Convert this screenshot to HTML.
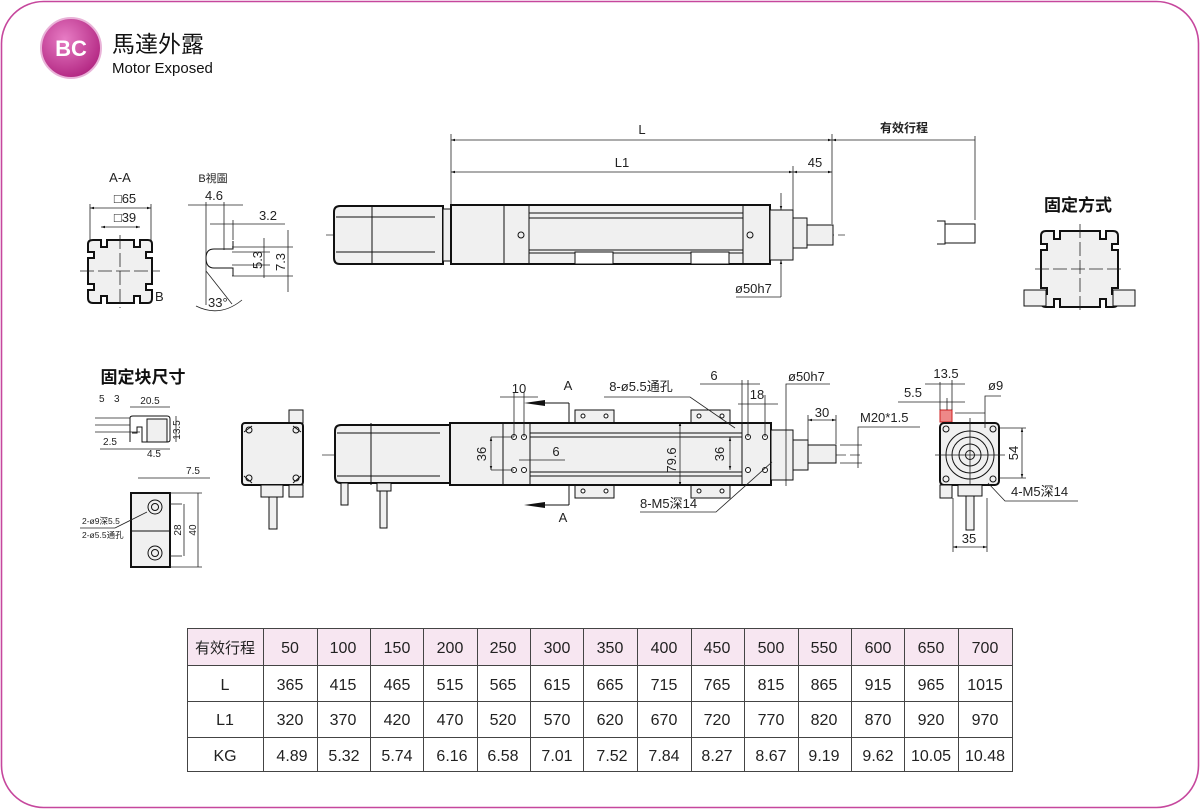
<!DOCTYPE html>
<html><head><meta charset="utf-8"><style>
html,body{margin:0;padding:0;background:#fff}
svg{display:block}
text{font-family:"Liberation Sans","Noto Sans CJK SC",sans-serif;fill:#222}
.t{font-size:13px}
.s{font-size:10px}
.k{stroke:#111;fill:none;stroke-width:1}
.b{stroke:#111;fill:#f0f0f0;stroke-width:2}
.f{stroke:#111;fill:#f0f0f0;stroke-width:1}
.c{stroke:#333;stroke-width:0.8;stroke-dasharray:12 4;fill:none}
.d{stroke:#222;stroke-width:0.8;fill:none}
</style></head><body>
<svg width="1200" height="809" viewBox="0 0 1200 809" xmlns="http://www.w3.org/2000/svg">
<defs>
<radialGradient id="g" cx="40%" cy="35%" r="70%"><stop offset="0" stop-color="#e77cc4"/><stop offset="1" stop-color="#b0237f"/></radialGradient>
<marker id="a" viewBox="0 0 10 10" refX="10" refY="5" markerWidth="7" markerHeight="5" orient="auto-start-reverse"><path d="M0,2 L10,5 L0,8z" fill="#111"/></marker>
</defs>
<rect x="1.5" y="1.5" width="1197" height="806" rx="42" fill="#fff" stroke="#c6479d" stroke-width="1.6"/>
<circle cx="71" cy="48" r="30" fill="url(#g)" stroke="#e9b3d8" stroke-width="2"/>
<text x="71" y="56" text-anchor="middle" style="font-size:22px;font-weight:bold;fill:#fff">BC</text>
<text x="112" y="52" style="font-size:23px;fill:#111">馬達外露</text>
<text x="112" y="73" style="font-size:15px;fill:#111">Motor Exposed</text>

<!-- TOP MAIN VIEW -->
<line class="c" x1="326" y1="235" x2="845" y2="235"/>
<path class="b" d="M340,206 H443 V264 H340 Q334,264 334,258 V212 Q334,206 340,206z"/>
<line class="k" x1="372" y1="206" x2="372" y2="264"/>
<line class="k" x1="336" y1="217" x2="435" y2="217"/>
<line class="k" x1="336" y1="252" x2="435" y2="252"/>
<rect class="f" x="443" y="209" width="8" height="52"/>
<rect class="b" x="451" y="205" width="319" height="59"/>
<line class="k" x1="504" y1="205" x2="504" y2="264"/>
<line class="k" x1="529" y1="205" x2="529" y2="264"/>
<line class="k" x1="743" y1="205" x2="743" y2="264"/>
<line class="k" x1="529" y1="213" x2="743" y2="213"/>
<line class="k" x1="529" y1="218" x2="743" y2="218"/>
<line class="k" x1="529" y1="250" x2="743" y2="250"/>
<line class="k" x1="529" y1="253" x2="743" y2="253"/>
<rect x="575" y="252" width="38" height="12" fill="#fff" stroke="#111"/>
<rect x="691" y="252" width="38" height="12" fill="#fff" stroke="#111"/>
<circle cx="521" cy="235" r="3" class="k"/><circle cx="750" cy="235" r="3" class="k"/>
<rect class="f" x="770" y="210" width="23" height="50" stroke-width="1.4"/>
<rect class="f" x="793" y="218" width="14" height="30"/>
<rect class="f" x="807" y="225" width="26" height="20" stroke-width="1.4"/>
<line class="d" x1="451" y1="134" x2="451" y2="204"/>
<line class="d" x1="793" y1="166" x2="793" y2="210"/>
<line class="d" x1="832" y1="134" x2="832" y2="224"/>
<line class="d" x1="975" y1="136" x2="975" y2="220"/>
<line class="d" x1="451" y1="140" x2="832" y2="140" marker-start="url(#a)" marker-end="url(#a)"/>
<line class="d" x1="832" y1="140" x2="975" y2="140" marker-start="url(#a)"/>
<line class="d" x1="451" y1="172" x2="793" y2="172" marker-start="url(#a)" marker-end="url(#a)"/>
<line class="d" x1="793" y1="172" x2="832" y2="172" marker-start="url(#a)" marker-end="url(#a)"/>
<text class="t" x="642" y="134" text-anchor="middle">L</text>
<text class="t" x="622" y="167" text-anchor="middle">L1</text>
<text class="t" x="815" y="167" text-anchor="middle">45</text>
<text x="904" y="132" text-anchor="middle" style="font-size:12px;font-weight:bold">有效行程</text>
<line class="d" x1="781" y1="193" x2="781" y2="210" marker-end="url(#a)"/>
<line class="d" x1="781" y1="297" x2="781" y2="260" marker-end="url(#a)"/>
<line class="d" x1="736" y1="297" x2="781" y2="297"/>
<text class="t" x="735" y="293">ø50h7</text>
<path class="k" stroke-width="1.5" d="M937,221 H945 V244 H937 M945,224 H975 V243 H945"/>

<!-- A-A -->
<text class="t" x="120" y="182" text-anchor="middle">A-A</text>
<text class="t" x="125" y="203" text-anchor="middle">□65</text>
<line class="d" x1="90" y1="208" x2="151" y2="208" marker-start="url(#a)" marker-end="url(#a)"/>
<line class="d" x1="90" y1="204" x2="90" y2="240"/><line class="d" x1="151" y1="204" x2="151" y2="240"/>
<text class="t" x="125" y="222" text-anchor="middle">□39</text>
<line class="d" x1="101" y1="227" x2="140" y2="227" marker-start="url(#a)" marker-end="url(#a)"/>
<path class="b" d="M93,240 H101 V247 H107 V240 H134 V247 H140 V240 H148 Q152,240 152,244 V252 H146 V258 H152 V284 H146 V290 H152 V298 Q152,303 148,303 H140 V296 H134 V303 H107 V296 H101 V303 H93 Q88,303 88,298 V290 H94 V284 H88 V258 H94 V252 H88 V244 Q88,240 93,240z"/>
<line class="d" x1="80" y1="271" x2="160" y2="271" stroke-dasharray="14 4"/>
<line class="d" x1="120" y1="235" x2="120" y2="308" stroke-dasharray="14 4"/>
<text class="t" x="155" y="301">B</text>
<!-- B view -->
<text x="213" y="182" text-anchor="middle" style="font-size:11px">B視圖</text>
<text class="t" x="214" y="200" text-anchor="middle">4.6</text>
<line class="d" x1="188" y1="205" x2="243" y2="205"/>
<line class="d" x1="206" y1="202" x2="206" y2="305"/>
<line class="d" x1="224" y1="202" x2="224" y2="250"/>
<line class="d" x1="233" y1="220" x2="233" y2="240"/>
<line class="d" x1="210" y1="224" x2="285" y2="224"/>
<text class="t" x="268" y="220" text-anchor="middle">3.2</text>
<path class="k" stroke-width="1.6" d="M233,241 V249 H214 Q206,249 206,258 Q206,268 214,268 H233 V276"/>
<line class="d" x1="232" y1="247" x2="293" y2="247"/><line class="d" x1="232" y1="276" x2="293" y2="276"/>
<line class="d" x1="232" y1="252" x2="270" y2="252"/><line class="d" x1="232" y1="265" x2="270" y2="265"/>
<line class="d" x1="264" y1="238" x2="264" y2="278"/>
<line class="d" x1="288" y1="230" x2="288" y2="292"/>
<text class="t" transform="translate(262,260) rotate(-90)" text-anchor="middle">5.3</text>
<text class="t" transform="translate(285,262) rotate(-90)" text-anchor="middle">7.3</text>
<path class="d" d="M196,306 Q220,318 242,300"/>
<line class="d" x1="206" y1="271" x2="232" y2="304"/>
<text class="t" x="208" y="307">33°</text>

<!-- 固定方式 -->
<text x="1078" y="211" text-anchor="middle" style="font-size:17px;font-weight:bold;fill:#111">固定方式</text>
<path class="b" d="M1046,231 H1054 V239 H1060 V231 H1100 V239 H1106 V231 H1113 Q1118,231 1118,236 V244 H1112 V250 H1118 V288 H1112 V294 H1118 V302 Q1118,307 1113,307 H1106 V299 H1100 V307 H1060 V299 H1054 V307 H1046 Q1041,307 1041,302 V294 H1047 V288 H1041 V250 H1047 V244 H1041 V236 Q1041,231 1046,231z"/>
<line class="d" x1="1035" y1="269" x2="1125" y2="269" stroke-dasharray="14 4"/>
<line class="d" x1="1080" y1="224" x2="1080" y2="312" stroke-dasharray="14 4"/>
<rect class="f" x="1024" y="290" width="22" height="16" stroke-width="1.5"/>
<rect class="f" x="1113" y="290" width="22" height="16" stroke-width="1.5"/>

<!-- 固定块尺寸 -->
<text x="143" y="383" text-anchor="middle" style="font-size:17px;font-weight:bold;fill:#111">固定块尺寸</text>
<text class="s" x="99" y="402">5</text><text class="s" x="114" y="402">3</text><text class="s" x="150" y="404" text-anchor="middle">20.5</text>
<line class="d" x1="130" y1="407" x2="170" y2="407"/>
<path class="k" stroke-width="1.6" d="M130,442 V418 Q130,416 133,416 H167 Q170,416 170,419 V440 Q170,442 167,442 H142 V427 H137 V433 H132"/>
<rect class="f" x="147" y="419" width="20" height="23"/>
<line class="d" x1="95" y1="418" x2="130" y2="418"/><line class="d" x1="95" y1="425" x2="130" y2="425"/>
<line class="d" x1="95" y1="432" x2="140" y2="432"/>
<text class="s" x="110" y="445" text-anchor="middle">2.5</text>
<line class="d" x1="100" y1="449" x2="170" y2="449"/>
<text class="s" x="154" y="457" text-anchor="middle">4.5</text>
<line class="d" x1="176" y1="416" x2="176" y2="442"/>
<text class="s" transform="translate(180,430) rotate(-90)" text-anchor="middle">13.5</text>
<text class="s" x="193" y="474" text-anchor="middle">7.5</text>
<line class="d" x1="138" y1="478" x2="210" y2="478"/>
<rect class="b" x="131" y="493" width="39" height="74"/>
<line class="k" x1="131" y1="531" x2="170" y2="531"/>
<circle class="k" cx="155" cy="507" r="7"/><circle class="k" cx="155" cy="507" r="3.5"/>
<circle class="k" cx="155" cy="553" r="7"/><circle class="k" cx="155" cy="553" r="3.5"/>
<line class="d" x1="170" y1="504" x2="182" y2="504"/><line class="d" x1="170" y1="556" x2="182" y2="556"/>
<line class="d" x1="184" y1="504" x2="184" y2="556"/>
<line class="d" x1="198" y1="493" x2="198" y2="567"/>
<line class="d" x1="170" y1="493" x2="202" y2="493"/><line class="d" x1="170" y1="567" x2="202" y2="567"/>
<text class="s" transform="translate(181,530) rotate(-90)" text-anchor="middle">28</text>
<text class="s" transform="translate(196,530) rotate(-90)" text-anchor="middle">40</text>
<line class="d" x1="80" y1="528" x2="115" y2="528"/><line class="d" x1="115" y1="528" x2="147" y2="512"/>
<text x="82" y="524" style="font-size:8.5px">2-ø9深5.5</text>
<text x="82" y="538" style="font-size:8.5px">2-ø5.5通孔</text>

<!-- LOWER end motor view -->
<rect class="f" x="289" y="410" width="14" height="13" stroke-width="1.5"/>
<rect class="b" x="242" y="423" width="61" height="62" rx="3"/>
<path class="k" d="M244,432 L252,426 M244,476 L252,483 M301,432 L293,426 M301,476 L293,483"/>
<circle class="k" cx="249" cy="430" r="3"/><circle class="k" cx="296" cy="430" r="3"/>
<circle class="k" cx="249" cy="478" r="3"/><circle class="k" cx="296" cy="478" r="3"/>
<rect class="f" x="261" y="485" width="22" height="12" stroke-width="1.5"/>
<rect class="f" x="289" y="485" width="14" height="12" stroke-width="1.5"/>
<rect class="f" x="269" y="497" width="8" height="32" stroke-width="1.3"/>

<!-- LOWER MAIN VIEW -->
<line class="c" x1="322" y1="455" x2="860" y2="455"/>
<path class="b" d="M341,425 H450 V483 H341 Q335,483 335,477 V431 Q335,425 341,425z"/>
<line class="k" x1="371" y1="423" x2="371" y2="485"/>
<line class="k" x1="337" y1="433" x2="440" y2="433"/><line class="k" x1="337" y1="476" x2="440" y2="476"/>
<rect class="f" x="341" y="483" width="7" height="22" stroke-width="1.3"/>
<rect class="f" x="377" y="483" width="14" height="8" stroke-width="1.3"/>
<rect class="f" x="380" y="491" width="7" height="37" stroke-width="1.3"/>
<rect class="f" x="575" y="410" width="39" height="13" stroke-width="1.3"/>
<rect class="f" x="691" y="410" width="39" height="13" stroke-width="1.3"/>
<rect class="f" x="575" y="485" width="39" height="13" stroke-width="1.3"/>
<rect class="f" x="691" y="485" width="39" height="13" stroke-width="1.3"/>
<rect class="b" x="450" y="423" width="321" height="62"/>
<line class="k" x1="503" y1="423" x2="503" y2="485"/>
<line class="k" x1="530" y1="423" x2="530" y2="485"/>
<line class="k" x1="742" y1="423" x2="742" y2="485"/>
<line class="k" x1="530" y1="433" x2="742" y2="433" stroke-width="1.5"/>
<line class="k" x1="530" y1="437" x2="742" y2="437"/>
<line class="k" x1="530" y1="472" x2="742" y2="472"/>
<line class="k" x1="530" y1="476" x2="742" y2="476" stroke-width="1.5"/>
<g fill="#fff" stroke="#111">
<circle cx="514" cy="437" r="2.5"/><circle cx="524" cy="437" r="2.5"/><circle cx="514" cy="470" r="2.5"/><circle cx="524" cy="470" r="2.5"/>
<circle cx="748" cy="437" r="2.5"/><circle cx="765" cy="437" r="2.5"/><circle cx="748" cy="470" r="2.5"/><circle cx="765" cy="470" r="2.5"/>
<circle cx="583" cy="416" r="2"/><circle cx="606" cy="416" r="2"/><circle cx="699" cy="416" r="2"/><circle cx="722" cy="416" r="2"/>
<circle cx="583" cy="491" r="2"/><circle cx="606" cy="491" r="2"/><circle cx="699" cy="491" r="2"/><circle cx="722" cy="491" r="2"/>
</g>
<rect class="f" x="771" y="430" width="22" height="50" stroke-width="1.4"/>
<rect class="f" x="793" y="440" width="15" height="30"/>
<rect class="f" x="808" y="445" width="28" height="18" stroke-width="1.4"/>
<!-- section arrows -->
<line class="k" x1="569" y1="403" x2="569" y2="423"/><line class="k" x1="569" y1="485" x2="569" y2="505"/>
<path d="M569,403 H545" class="k"/><path d="M545,400 L524,403 L545,406z" fill="#111"/>
<path d="M569,505 H545" class="k"/><path d="M545,502 L524,505 L545,508z" fill="#111"/>
<text class="t" x="568" y="390" text-anchor="middle">A</text>
<text class="t" x="563" y="522" text-anchor="middle">A</text>
<line class="d" x1="514" y1="392" x2="514" y2="437"/><line class="d" x1="524" y1="392" x2="524" y2="437"/>
<line class="d" x1="500" y1="397" x2="538" y2="397"/>
<text class="t" x="519" y="393" text-anchor="middle">10</text>
<line class="d" x1="491" y1="437" x2="514" y2="437"/><line class="d" x1="491" y1="470" x2="514" y2="470"/>
<line class="d" x1="491" y1="437" x2="491" y2="470" marker-start="url(#a)" marker-end="url(#a)"/>
<text class="t" transform="translate(486,454) rotate(-90)" text-anchor="middle">36</text>
<line class="d" x1="519" y1="460" x2="565" y2="460"/>
<text class="t" x="556" y="456" text-anchor="middle">6</text>
<line class="d" x1="680" y1="422" x2="680" y2="486" marker-start="url(#a)" marker-end="url(#a)"/>
<text class="t" transform="translate(676,460) rotate(-90)" text-anchor="middle">79.6</text>
<line class="d" x1="730" y1="437" x2="730" y2="470" marker-start="url(#a)" marker-end="url(#a)"/>
<text class="t" transform="translate(724,454) rotate(-90)" text-anchor="middle">36</text>
<text class="t" x="641" y="391" text-anchor="middle">8-ø5.5通孔</text>
<path class="d" d="M604,397 H690 L735,428"/>
<text class="t" x="714" y="380" text-anchor="middle">6</text>
<line class="d" x1="700" y1="384" x2="760" y2="384"/>
<line class="d" x1="742" y1="380" x2="742" y2="423"/><line class="d" x1="748" y1="380" x2="748" y2="437"/>
<line class="d" x1="765" y1="395" x2="765" y2="437"/>
<line class="d" x1="738" y1="404" x2="778" y2="404"/>
<text class="t" x="757" y="399" text-anchor="middle">18</text>
<text class="t" x="788" y="381">ø50h7</text>
<path class="d" d="M830,384 H786 V486"/>
<line class="d" x1="808" y1="420" x2="836" y2="420" marker-start="url(#a)" marker-end="url(#a)"/>
<line class="d" x1="808" y1="415" x2="808" y2="444"/><line class="d" x1="836" y1="415" x2="836" y2="444"/>
<text class="t" x="822" y="417" text-anchor="middle">30</text>
<text class="t" x="860" y="422">M20*1.5</text>
<path class="d" d="M920,427 H858 V468"/>
<line class="d" x1="840" y1="445" x2="862" y2="445"/><line class="d" x1="840" y1="463" x2="862" y2="463"/>
<text class="t" x="640" y="508">8-M5深14</text>
<path class="d" d="M640,512 H716 L772,462"/>

<!-- RIGHT end view -->
<rect x="940" y="410" width="12" height="12" fill="#e88" stroke="#c22"/>
<rect class="b" x="940" y="423" width="59" height="62" rx="4"/>
<circle class="k" cx="970" cy="455" r="24" stroke-width="1.4"/>
<circle class="k" cx="970" cy="455" r="18"/>
<circle class="k" cx="970" cy="455" r="11"/>
<circle class="k" cx="970" cy="455" r="4.5"/>
<line class="d" x1="935" y1="455" x2="1005" y2="455"/><line class="d" x1="970" y1="418" x2="970" y2="492"/>
<g class="k"><circle cx="946" cy="429" r="3"/><circle cx="993" cy="429" r="3"/><circle cx="946" cy="479" r="3"/><circle cx="993" cy="479" r="3"/></g>
<rect class="f" x="940" y="485" width="12" height="13" stroke-width="1.5"/>
<rect class="f" x="958" y="485" width="24" height="11" stroke-width="1.5"/>
<rect class="f" x="966" y="496" width="8" height="34" stroke-width="1.3"/>
<text class="t" x="946" y="378" text-anchor="middle">13.5</text>
<line class="d" x1="925" y1="384" x2="965" y2="384"/>
<text class="t" x="913" y="397" text-anchor="middle">5.5</text>
<line class="d" x1="898" y1="402" x2="965" y2="402"/>
<line class="d" x1="940" y1="382" x2="940" y2="410"/><line class="d" x1="947" y1="398" x2="947" y2="410"/><line class="d" x1="952" y1="380" x2="952" y2="410"/>
<text class="t" x="988" y="390">ø9</text>
<path class="d" d="M1001,396 H985 V428"/>
<line class="d" x1="955" y1="413" x2="985" y2="413"/>
<line class="d" x1="1000" y1="428" x2="1026" y2="428"/><line class="d" x1="1000" y1="478" x2="1026" y2="478"/>
<line class="d" x1="1022" y1="428" x2="1022" y2="478" marker-start="url(#a)" marker-end="url(#a)"/>
<text class="t" transform="translate(1018,453) rotate(-90)" text-anchor="middle">54</text>
<text class="t" x="1011" y="496">4-M5深14</text>
<path class="d" d="M1078,501 H1005 L988,483"/>
<line class="d" x1="953" y1="498" x2="953" y2="552"/><line class="d" x1="987" y1="498" x2="987" y2="552"/>
<line class="d" x1="953" y1="547" x2="987" y2="547" marker-start="url(#a)" marker-end="url(#a)"/>
<text class="t" x="969" y="543" text-anchor="middle">35</text>

<!-- TABLE -->
<g>
<rect x="263" y="628" width="750" height="37" fill="#f7e6f1"/>
<rect x="187" y="628" width="76" height="37" fill="#f7e6f1"/>
<g stroke="#444" stroke-width="1" fill="none">
<rect x="187.5" y="628.5" width="825" height="143"/>
<line x1="187" y1="665.5" x2="1013" y2="665.5"/>
<line x1="187" y1="701.5" x2="1013" y2="701.5"/>
<line x1="187" y1="737.5" x2="1013" y2="737.5"/>
<line x1="263.5" y1="628" x2="263.5" y2="772"/><line x1="317.5" y1="628" x2="317.5" y2="772"/><line x1="370.5" y1="628" x2="370.5" y2="772"/><line x1="423.5" y1="628" x2="423.5" y2="772"/><line x1="477.5" y1="628" x2="477.5" y2="772"/><line x1="530.5" y1="628" x2="530.5" y2="772"/><line x1="583.5" y1="628" x2="583.5" y2="772"/><line x1="637.5" y1="628" x2="637.5" y2="772"/><line x1="691.5" y1="628" x2="691.5" y2="772"/><line x1="744.5" y1="628" x2="744.5" y2="772"/><line x1="798.5" y1="628" x2="798.5" y2="772"/><line x1="851.5" y1="628" x2="851.5" y2="772"/><line x1="904.5" y1="628" x2="904.5" y2="772"/><line x1="958.5" y1="628" x2="958.5" y2="772"/>
</g>
<g style="font-size:16px" text-anchor="middle">
<text x="225" y="653" style="font-size:15px">有效行程</text>
<text x="290" y="653">50</text><text x="343" y="653">100</text><text x="397" y="653">150</text><text x="450" y="653">200</text><text x="503" y="653">250</text><text x="557" y="653">300</text><text x="610" y="653">350</text><text x="664" y="653">400</text><text x="717" y="653">450</text><text x="771" y="653">500</text><text x="824" y="653">550</text><text x="878" y="653">600</text><text x="931" y="653">650</text><text x="985" y="653">700</text>
<text x="225" y="690">L</text>
<text x="290" y="690">365</text><text x="343" y="690">415</text><text x="397" y="690">465</text><text x="450" y="690">515</text><text x="503" y="690">565</text><text x="557" y="690">615</text><text x="610" y="690">665</text><text x="664" y="690">715</text><text x="717" y="690">765</text><text x="771" y="690">815</text><text x="824" y="690">865</text><text x="878" y="690">915</text><text x="931" y="690">965</text><text x="985" y="690">1015</text>
<text x="225" y="725">L1</text>
<text x="290" y="725">320</text><text x="343" y="725">370</text><text x="397" y="725">420</text><text x="450" y="725">470</text><text x="503" y="725">520</text><text x="557" y="725">570</text><text x="610" y="725">620</text><text x="664" y="725">670</text><text x="717" y="725">720</text><text x="771" y="725">770</text><text x="824" y="725">820</text><text x="878" y="725">870</text><text x="931" y="725">920</text><text x="985" y="725">970</text>
<text x="225" y="761">KG</text>
<text x="292" y="761">4.89</text><text x="344" y="761">5.32</text><text x="397" y="761">5.74</text><text x="452" y="761">6.16</text><text x="503" y="761">6.58</text><text x="557" y="761">7.01</text><text x="612" y="761">7.52</text><text x="664" y="761">7.84</text><text x="717" y="761">8.27</text><text x="771" y="761">8.67</text><text x="824" y="761">9.19</text><text x="878" y="761">9.62</text><text x="931" y="761">10.05</text><text x="985" y="761">10.48</text>
</g>
</g>
</svg>
</body></html>
